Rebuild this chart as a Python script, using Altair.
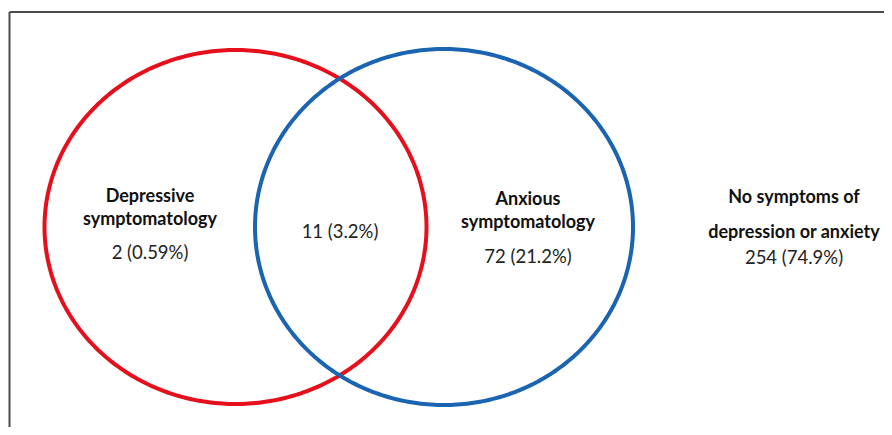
import altair as alt
import pandas as pd
import numpy as np

# ---- data ----
groups = ["Depressive symptomatology", "Both", "Anxious symptomatology", "No symptoms of depression or anxiety"]
counts = [2, 11, 72, 254]
percents = ["0.59%", "3.2%", "21.2%", "74.9%"]

# set circles (ellipses in page pixel coords)
set_names = ["Depressive", "Anxious"]
set_colors = ["#e5101b", "#1a64b2"]
cx = [235.5, 444.0]
cy = [227.0, 227.0]
rx = [191.0, 189.0]
ry = [177.0, 178.0]

# label layout
head_lines = [["Depressive", "symptomatology"], [], ["Anxious", "symptomatology"], ["No symptoms of", "depression or anxiety"]]
head_x = [150, 340, 528, 794]
head_y = [[197, 220], [], [200, 223], [198, 233]]
val_y = [253, 232, 257, 258]

W, H = 876, 419
X0, Y0 = 8, 8

# ---- build tables ----
rows = []
t = np.linspace(0, 2 * np.pi, 361)
for name, c, x0, y0, a, b in zip(set_names, set_colors, cx, cy, rx, ry):
    for i, tt in enumerate(t):
        rows.append({"set": name, "i": i, "x": x0 + a * np.cos(tt), "y": y0 + b * np.sin(tt)})
ell = pd.DataFrame(rows)

lab = []
for g, n, p, hx, hl, hy, vy in zip(groups, counts, percents, head_x, head_lines, head_y, val_y):
    for line, yy in zip(hl, hy):
        lab.append({"text": line, "x": hx, "y": yy, "w": "bold"})
    lab.append({"text": f"{n} ({p})", "x": hx, "y": vy, "w": "normal"})
labdf = pd.DataFrame(lab)
bold = labdf[labdf.w == "bold"]
norm = labdf[labdf.w == "normal"]

xs = alt.Scale(domain=[X0, X0 + W], nice=False, zero=False)
ys = alt.Scale(domain=[Y0, Y0 + H], nice=False, zero=False, reverse=True)
X = lambda f: alt.X(f, type="quantitative", scale=xs, axis=None)
Y = lambda f: alt.Y(f, type="quantitative", scale=ys, axis=None)

frame = pd.DataFrame({"x": [9.5, 9.5], "y": [12, 12], "x2": [X0 + W, 9.5], "y2": [12, Y0 + H]})
frame_layer = alt.Chart(frame).mark_rule(color="#4a4a4a", strokeWidth=2).encode(
    x=X("x"), y=Y("y"), x2="x2", y2="y2")

ell_layer = alt.Chart(ell).mark_line(strokeWidth=4, interpolate="linear").encode(
    x=X("x"), y=Y("y"), order="i:Q", detail="set:N",
    color=alt.Color("set:N", scale=alt.Scale(domain=set_names, range=set_colors), legend=None))

bold_layer = alt.Chart(bold).mark_text(font="Lato", fontSize=18, fontWeight="bold", color="#111111",
                                       baseline="middle", align="center").encode(
    x=X("x"), y=Y("y"), text="text:N")
norm_layer = alt.Chart(norm).mark_text(font="Lato", fontSize=18.5, color="#222222",
                                       baseline="middle", align="center").encode(
    x=X("x"), y=Y("y"), text="text:N")

chart = alt.layer(frame_layer, ell_layer, bold_layer, norm_layer).properties(
    width=W, height=H, padding=0, autosize=alt.AutoSizeParams(type="none"),
    background="white"
).configure_view(stroke=None)

chart.save("out.html", embed_options={"renderer": "svg", "actions": False})
